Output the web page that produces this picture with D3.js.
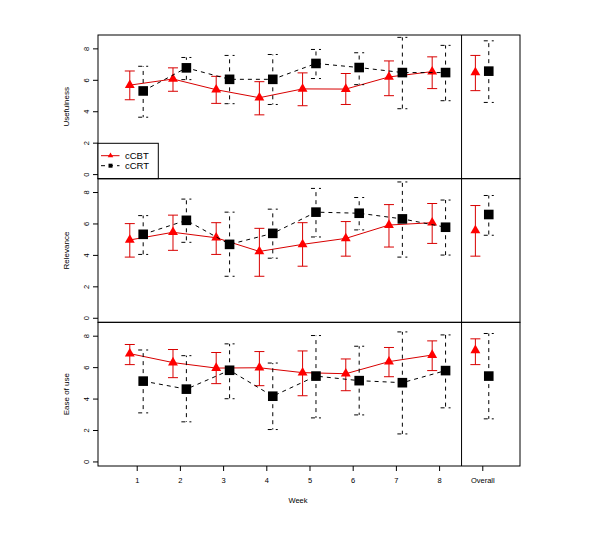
<!DOCTYPE html>
<html><head><meta charset="utf-8">
<script src="https://cdn.jsdelivr.net/npm/d3@7"></script>
<style>body{margin:0;background:#fff;} text{font-family:"Liberation Sans",Arial,sans-serif;}</style>
</head><body><svg id="c" width="600" height="550"></svg>
<script>
const weekLabels = ["1","2","3","4","5","6","7","8","Overall"];
const panelTitles = ["Usefulness","Relevance","Ease of use"];
const yTicks = [0,2,4,6,8];
const seriesNames = ["cCBT","cCRT"];

const useCBT   = [5.66, 6.05, 5.37, 4.86, 5.42, 5.41, 6.18, 6.52, 6.47];
const useCBTlo = [4.73, 5.27, 4.50, 3.77, 4.35, 4.43, 4.99, 5.44, 5.31];
const useCBThi = [6.56, 6.76, 6.22, 5.88, 6.44, 6.40, 7.20, 7.46, 7.55];
const useCRT   = [5.29, 6.76, 6.03, 6.03, 7.04, 6.78, 6.46, 6.46, 6.55];
const useCRTlo = [3.62, 6.01, 4.48, 4.43, 6.08, 5.69, 4.16, 4.67, 4.56];
const useCRThi = [6.86, 7.42, 7.55, 7.61, 7.93, 7.72, 8.70, 8.19, 8.48];

const relCBT   = [4.95, 5.44, 5.09, 4.22, 4.67, 5.05, 5.90, 6.05, 5.56];
const relCBTlo = [3.86, 4.29, 4.03, 2.64, 3.28, 3.92, 4.50, 4.73, 3.92];
const relCBThi = [5.99, 6.53, 6.05, 5.69, 6.05, 6.12, 7.20, 7.27, 7.14];
const relCRT   = [5.31, 6.20, 4.67, 5.37, 6.72, 6.65, 6.29, 5.76, 6.57];
const relCRTlo = [4.03, 4.80, 2.64, 3.79, 5.14, 5.59, 3.86, 3.99, 5.25];
const relCRThi = [6.50, 7.55, 6.72, 6.91, 8.23, 7.65, 8.64, 7.49, 7.78];

const easeCBT   = [6.86, 6.29, 5.94, 5.96, 5.65, 5.58, 6.35, 6.77, 7.07];
const easeCBTlo = [6.16, 5.33, 4.95, 4.82, 4.18, 4.50, 5.39, 5.78, 6.16];
const easeCBThi = [7.44, 7.12, 6.93, 6.99, 7.03, 6.52, 7.25, 7.67, 7.80];
const easeCRT   = [5.11, 4.60, 5.80, 4.15, 5.43, 5.14, 5.01, 5.78, 5.43];
const easeCRTlo = [3.09, 2.52, 3.99, 2.03, 2.77, 2.96, 1.75, 3.41, 2.71];
const easeCRThi = [7.09, 6.73, 7.48, 6.26, 8.01, 7.33, 8.24, 8.05, 8.14];

const panels = [
  {title: panelTitles[0], cbt:[useCBT,useCBTlo,useCBThi], crt:[useCRT,useCRTlo,useCRThi]},
  {title: panelTitles[1], cbt:[relCBT,relCBTlo,relCBThi], crt:[relCRT,relCRTlo,relCRThi]},
  {title: panelTitles[2], cbt:[easeCBT,easeCBTlo,easeCBThi], crt:[easeCRT,easeCRTlo,easeCRThi]}
];

const svg = d3.select("#c");
const L = 98, R = 520, T = 35, B = 466;
const ph = (B - T) / 3;
const x = d3.scaleLinear().domain([0.104, 9.873]).range([L, R]);
const red = "#d80000", redFill = "#ff0000";
const offCBT = -0.16, offCRT = 0.15;

function triPath(cx, cy, r) {
  const h = r * Math.sqrt(3) / 2;
  return `M${cx},${cy - r}L${cx + h},${cy + r / 2}L${cx - h},${cy + r / 2}Z`;
}

panels.forEach((p, k) => {
  const top = T + k * ph, bot = top + ph;
  const y = d3.scaleLinear().domain([-0.29, 8.85]).range([bot, top]);
  const g = svg.append("g");

  // y axis
  const ax = g.append("g").attr("transform", `translate(${L},0)`)
    .call(d3.axisLeft(y).tickValues(yTicks).tickSize(5).tickPadding(3).tickFormat(d3.format("d")));
  ax.select(".domain").remove();
  ax.selectAll("line").attr("stroke", "#000");
  ax.selectAll("text").attr("font-size", 7.5).attr("fill", "#000")
    .attr("x", -12).attr("y", 0).attr("dy", "0.35em").attr("text-anchor", "middle")
    .attr("transform", "rotate(-90,-12,0)");

  g.append("text").attr("transform", `translate(68.5,${(top + bot) / 2}) rotate(-90)`)
    .attr("text-anchor", "middle").attr("font-size", 8).text(p.title);

  const idx8 = d3.range(8);
  // cCBT
  const [m1, lo1, hi1] = p.cbt;
  g.append("path").attr("fill", "none").attr("stroke", red).attr("stroke-width", 1)
    .attr("d", d3.line().x(i => x(i + 1 + offCBT)).y(i => y(m1[i]))(idx8));
  const e1 = g.append("g").attr("stroke", red).attr("stroke-width", 1);
  d3.range(9).forEach(i => {
    const cx = x(i + 1 + offCBT);
    e1.append("line").attr("x1", cx).attr("x2", cx).attr("y1", y(lo1[i])).attr("y2", y(hi1[i]));
    e1.append("line").attr("x1", cx - 5).attr("x2", cx + 5).attr("y1", y(lo1[i])).attr("y2", y(lo1[i]));
    e1.append("line").attr("x1", cx - 5).attr("x2", cx + 5).attr("y1", y(hi1[i])).attr("y2", y(hi1[i]));
  });
  g.selectAll(null).data(d3.range(9)).enter().append("path")
    .attr("fill", redFill).attr("d", i => triPath(x(i + 1 + offCBT), y(m1[i]), 5.7));

  // cCRT
  const [m2, lo2, hi2] = p.crt;
  g.append("path").attr("fill", "none").attr("stroke", "#000").attr("stroke-width", 1)
    .attr("stroke-dasharray", "4,4")
    .attr("d", d3.line().x(i => x(i + 1 + offCRT)).y(i => y(m2[i]))(idx8));
  const e2 = g.append("g").attr("stroke", "#000").attr("stroke-width", 1).attr("stroke-dasharray", "4,4");
  d3.range(9).forEach(i => {
    const cx = x(i + 1 + offCRT);
    e2.append("line").attr("x1", cx).attr("x2", cx).attr("y1", y(m2[i])).attr("y2", y(hi2[i]));
    e2.append("line").attr("x1", cx).attr("x2", cx).attr("y1", y(m2[i])).attr("y2", y(lo2[i]));
    e2.append("line").attr("x1", cx - 5).attr("x2", cx + 5).attr("y1", y(lo2[i])).attr("y2", y(lo2[i]));
    e2.append("line").attr("x1", cx - 5).attr("x2", cx + 5).attr("y1", y(hi2[i])).attr("y2", y(hi2[i]));
  });
  g.selectAll(null).data(d3.range(9)).enter().append("rect")
    .attr("fill", "#000")
    .attr("x", i => x(i + 1 + offCRT) - 4.8).attr("y", i => y(m2[i]) - 4.8)
    .attr("width", 9.6).attr("height", 9.6);

  // box
  g.append("rect").attr("x", L).attr("y", top).attr("width", R - L).attr("height", ph)
    .attr("fill", "none").attr("stroke", "#000").attr("stroke-width", 1);

  if (k === 0) {
    // legend
    const lg = g.append("g");
    lg.append("rect").attr("x", L).attr("y", 143.3).attr("width", 60.3).attr("height", bot - 143.3)
      .attr("fill", "#fff").attr("stroke", "#000");
    const rows = [155.7, 165.7];
    lg.append("line").attr("x1", 101).attr("x2", 119.5).attr("y1", rows[0]).attr("y2", rows[0]).attr("stroke", red);
    lg.append("path").attr("fill", redFill).attr("d", triPath(110.5, rows[0], 3.2));
    lg.append("line").attr("x1", 101).attr("x2", 119.5).attr("y1", rows[1]).attr("y2", rows[1])
      .attr("stroke", "#000").attr("stroke-dasharray", "4,4");
    lg.append("rect").attr("x", 108.5).attr("y", rows[1] - 2).attr("width", 4).attr("height", 4).attr("fill", "#000");
    seriesNames.forEach((s, j) => {
      lg.append("text").attr("x", 125).attr("y", rows[j]).attr("dy", "0.35em")
        .attr("font-size", 9.5).text(s);
    });
  }
});

// divider between weeks and overall
svg.append("line").attr("x1", x(8.52)).attr("x2", x(8.52)).attr("y1", T).attr("y2", B)
  .attr("stroke", "#000").attr("stroke-width", 1);

// x axis
const xa = svg.append("g").attr("transform", `translate(0,${B})`)
  .call(d3.axisBottom(x).tickValues(d3.range(1, 10)).tickSize(5).tickPadding(7)
    .tickFormat(d => weekLabels[d - 1]));
xa.select(".domain").remove();
xa.selectAll("text").attr("font-size", 7.5).attr("fill", "#000");
svg.append("text").attr("x", 298).attr("y", 500).attr("dy", "0.35em").attr("text-anchor", "middle")
  .attr("font-size", 7.5).text("Week");
</script></body></html>
